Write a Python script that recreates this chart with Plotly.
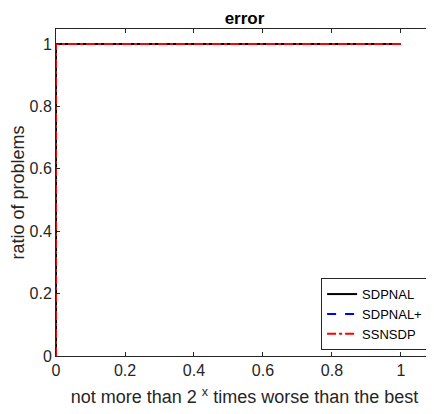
import plotly.graph_objects as go

# performance profile: ratio of problems solved within 2^x of the best
x_vals = [0, 0, 1]
sdpnal = [0, 1, 1]
sdpnal_plus = [0, 1, 1]
ssnsdp = [0, 1, 1]
tick_vals = [0, 0.2, 0.4, 0.6, 0.8, 1]
tick_text = ["0", "0.2", "0.4", "0.6", "0.8", "1"]

font = "Liberation Sans"

fig = go.Figure()
fig.add_trace(go.Scatter(x=x_vals, y=sdpnal, mode="lines", name="SDPNAL",
                         line=dict(color="black", width=2)))
fig.add_trace(go.Scatter(x=x_vals, y=sdpnal_plus, mode="lines", name="SDPNAL+",
                         line=dict(color="blue", width=2, dash="dash")))
fig.add_trace(go.Scatter(x=x_vals, y=ssnsdp, mode="lines", name="SSNSDP",
                         line=dict(color="red", width=2, dash="dashdot")))

axis_style = dict(showline=True, linecolor="#262626", linewidth=1, mirror="ticks",
                  ticks="inside", ticklen=4, tickcolor="#262626",
                  showgrid=False, zeroline=False, automargin=False,
                  tickfont=dict(size=16, color="#262626"))

# the page body adds an 8px offset, so the figure is sized to fit the window
fig.update_layout(
    width=426, height=406,
    margin=dict(l=48, r=1, t=21, b=58),
    plot_bgcolor="white", paper_bgcolor="white",
    font=dict(family=font, size=16, color="#262626"),
    title=dict(text="<b>error</b>", xref="paper", x=0.5, xanchor="center",
               yref="container", y=0.975, yanchor="middle",
               font=dict(size=17, color="black")),
    xaxis=dict(range=[0, 1.0928], tickvals=tick_vals, ticktext=tick_text,
               title=dict(text="not more than 2 <sup>x</sup> times worse than the best",
                          font=dict(size=18), standoff=12),
               **axis_style),
    yaxis=dict(range=[0, 1.048], tickvals=tick_vals, ticktext=tick_text,
               title=dict(text="ratio of problems", font=dict(size=18), standoff=8),
               **axis_style),
    legend=dict(x=0.987, y=0.018, xanchor="right", yanchor="bottom",
                bgcolor="white", bordercolor="#262626", borderwidth=1,
                font=dict(size=13, color="black"), tracegroupgap=0,
                itemwidth=30),
    showlegend=True,
)

fig.write_html("out.html")
